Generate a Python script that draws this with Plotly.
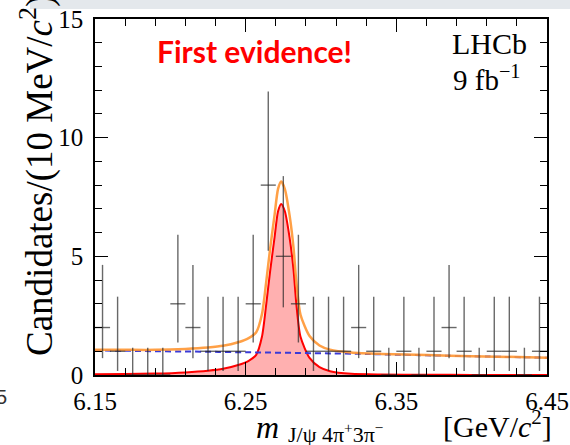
import plotly.graph_objects as go
import numpy as np

# ---------------- data ----------------
bin_centers = [6.155, 6.165, 6.175, 6.185, 6.195, 6.205, 6.215, 6.225, 6.235, 6.245,
               6.255, 6.265, 6.275, 6.285, 6.295, 6.305, 6.315, 6.325, 6.335, 6.345,
               6.355, 6.365, 6.375, 6.385, 6.395, 6.405, 6.415, 6.425, 6.435, 6.445]
counts = [2, 1, 0, 0, 0, 3, 2, 1, 1, 1, 3, 8, 5, 3, 1, 1, 1, 2, 1, 0,
          1, 0, 1, 2, 1, 0, 1, 1, 0, 1]
err_low = [1.29, 0.83, 0, 0, 0, 1.63, 1.29, 0.83, 0.83, 0.83, 1.63, 2.76, 2.15, 1.63, 0.83,
           0.83, 0.83, 1.29, 0.83, 0, 0.83, 0, 0.83, 1.29, 0.83, 0, 0.83, 0.83, 0, 0.83]
err_high = [2.64, 2.30, 1.15, 1.15, 1.15, 2.91, 2.64, 2.30, 2.30, 2.30, 2.91, 3.94, 3.38, 2.91, 2.30,
            2.30, 2.30, 2.64, 2.30, 1.15, 2.30, 1.15, 2.30, 2.64, 2.30, 1.15, 2.30, 2.30, 1.15, 2.30]
bin_half_width = 0.005

# fit curves
curve_mass = [6.150, 6.170, 6.190, 6.210, 6.225, 6.235, 6.245, 6.252, 6.257, 6.2608,
              6.2637, 6.2663, 6.2692, 6.2715, 6.2736, 6.2760, 6.2791, 6.2818, 6.2836, 6.2864,
              6.2924, 6.2990, 6.3060, 6.3200, 6.3400, 6.3700, 6.4000, 6.4500]
signal = [0.03, 0.04, 0.06, 0.11, 0.18, 0.26, 0.42, 0.60, 0.85, 1.61,
          3.01, 4.41, 5.81, 6.90, 7.21, 6.90, 5.81, 4.41, 3.01, 1.61,
          0.72, 0.33, 0.16, 0.05, 0.02, 0.01, 0.005, 0.0]
background = [1.03, 1.02, 1.00, 0.99, 0.98, 0.97, 0.96, 0.955, 0.95, 0.95,
              0.945, 0.945, 0.94, 0.94, 0.94, 0.935, 0.935, 0.93, 0.93, 0.93,
              0.92, 0.915, 0.91, 0.90, 0.87, 0.83, 0.79, 0.73]
total = list(np.array(signal) + np.array(background))

W, H = 570, 445
L, R, T, B = 95, 23, 19, 70
pw, ph = W - L - R, H - T - B

def px(x):
    return (x - L) / pw

def py(y):
    return (H - B - y) / ph

SERIF = "Liberation Serif"

fig = go.Figure()
# signal fill + line
fig.add_trace(go.Scatter(x=curve_mass, y=signal, mode="lines", fill="tozeroy",
                         fillcolor="rgba(255,80,80,0.45)",
                         line=dict(color="#ff0000", width=2, shape="spline", smoothing=0.7),
                         hoverinfo="skip", showlegend=False))
# background
fig.add_trace(go.Scatter(x=curve_mass, y=background, mode="lines",
                         line=dict(color="#3a3ad6", width=2, dash="6px,4px", shape="spline"),
                         hoverinfo="skip", showlegend=False))
# total
fig.add_trace(go.Scatter(x=curve_mass, y=total, mode="lines",
                         line=dict(color="rgba(255,150,50,0.9)", width=2.5, shape="spline", smoothing=0.7),
                         hoverinfo="skip", showlegend=False))
# data
fig.add_trace(go.Scatter(x=bin_centers, y=counts, mode="markers",
                         marker=dict(size=1, color="rgba(0,0,0,0)"),
                         error_y=dict(type="data", symmetric=False, array=err_high, arrayminus=err_low,
                                      width=0, thickness=1.4, color="rgba(40,40,40,0.7)"),
                         error_x=dict(type="constant", value=bin_half_width, width=0,
                                      thickness=1.4, color="rgba(40,40,40,0.7)"),
                         hoverinfo="skip", showlegend=False))

axis_common = dict(showline=True, linecolor="black", linewidth=1.5, mirror="ticks",
                   ticks="inside", ticklen=13, tickwidth=1.3, tickcolor="black",
                   showgrid=False, zeroline=False, automargin=False,
                   tickfont=dict(family=SERIF, size=25, color="black"))

fig.update_xaxes(range=[6.15, 6.45], tickmode="linear", tick0=6.15, dtick=0.1, tickformat=".2f",
                 minor=dict(ticks="inside", tick0=6.15, dtick=0.02, ticklen=7, tickwidth=1.2,
                            tickcolor="black"),
                 ticklabelstandoff=3, **axis_common)
fig.update_yaxes(range=[0, 15], tickmode="linear", tick0=0, dtick=5,
                 minor=dict(ticks="inside", tick0=0, dtick=1, ticklen=7, tickwidth=1.2,
                            tickcolor="black"),
                 ticklabelstandoff=5, **axis_common)

ann = []
ann.append(dict(text="First evidence!", x=px(254), y=py(51), xref="paper", yref="paper",
                showarrow=False, xanchor="center", yanchor="middle",
                font=dict(family="Lato", size=30, color="#ff0000", weight="bold")))
ann.append(dict(text="LHCb", x=px(489), y=py(43), xref="paper", yref="paper",
                showarrow=False, xanchor="center", yanchor="middle",
                font=dict(family=SERIF, size=30, color="black")))
ann.append(dict(text="9 fb<sup>−1</sup>", x=px(487), y=py(78), xref="paper", yref="paper",
                showarrow=False, xanchor="center", yanchor="middle",
                font=dict(family=SERIF, size=29, color="black")))
ann.append(dict(text="Candidates/(10 MeV/<i>c</i><sup>2</sup>)", x=px(37), y=py(176),
                xref="paper", yref="paper", textangle=-90,
                showarrow=False, xanchor="center", yanchor="middle",
                font=dict(family=SERIF, size=37, color="black")))
ann.append(dict(text="<i>m</i>", x=px(267), y=py(427), xref="paper", yref="paper",
                showarrow=False, xanchor="center", yanchor="middle",
                font=dict(family=SERIF, size=32, color="black")))
ann.append(dict(text="J/ψ 4π<sup>+</sup>3π<sup>−</sup>", x=px(336), y=py(433), xref="paper", yref="paper",
                showarrow=False, xanchor="center", yanchor="middle",
                font=dict(family=SERIF, size=22, color="black")))
ann.append(dict(text="[GeV/<i>c</i><sup>2</sup>]", x=px(497), y=py(424), xref="paper", yref="paper",
                showarrow=False, xanchor="center", yanchor="middle",
                font=dict(family=SERIF, size=30, color="black")))
ann.append(dict(text="5", x=px(9), y=py(397), xref="paper", yref="paper",
                showarrow=False, xanchor="right", yanchor="middle",
                font=dict(family="Liberation Sans", size=20, color="#333")))

fig.update_layout(width=W, height=H, margin=dict(l=L, r=R, t=T, b=B),
                  paper_bgcolor="white", plot_bgcolor="white",
                  annotations=ann,
                  shapes=[dict(type="rect", xref="paper", yref="paper",
                               x0=px(30), x1=px(570), y0=py(0), y1=py(9),
                               fillcolor="#e4e8ec", line=dict(width=0), layer="below")])

fig.write_html("out.html")
